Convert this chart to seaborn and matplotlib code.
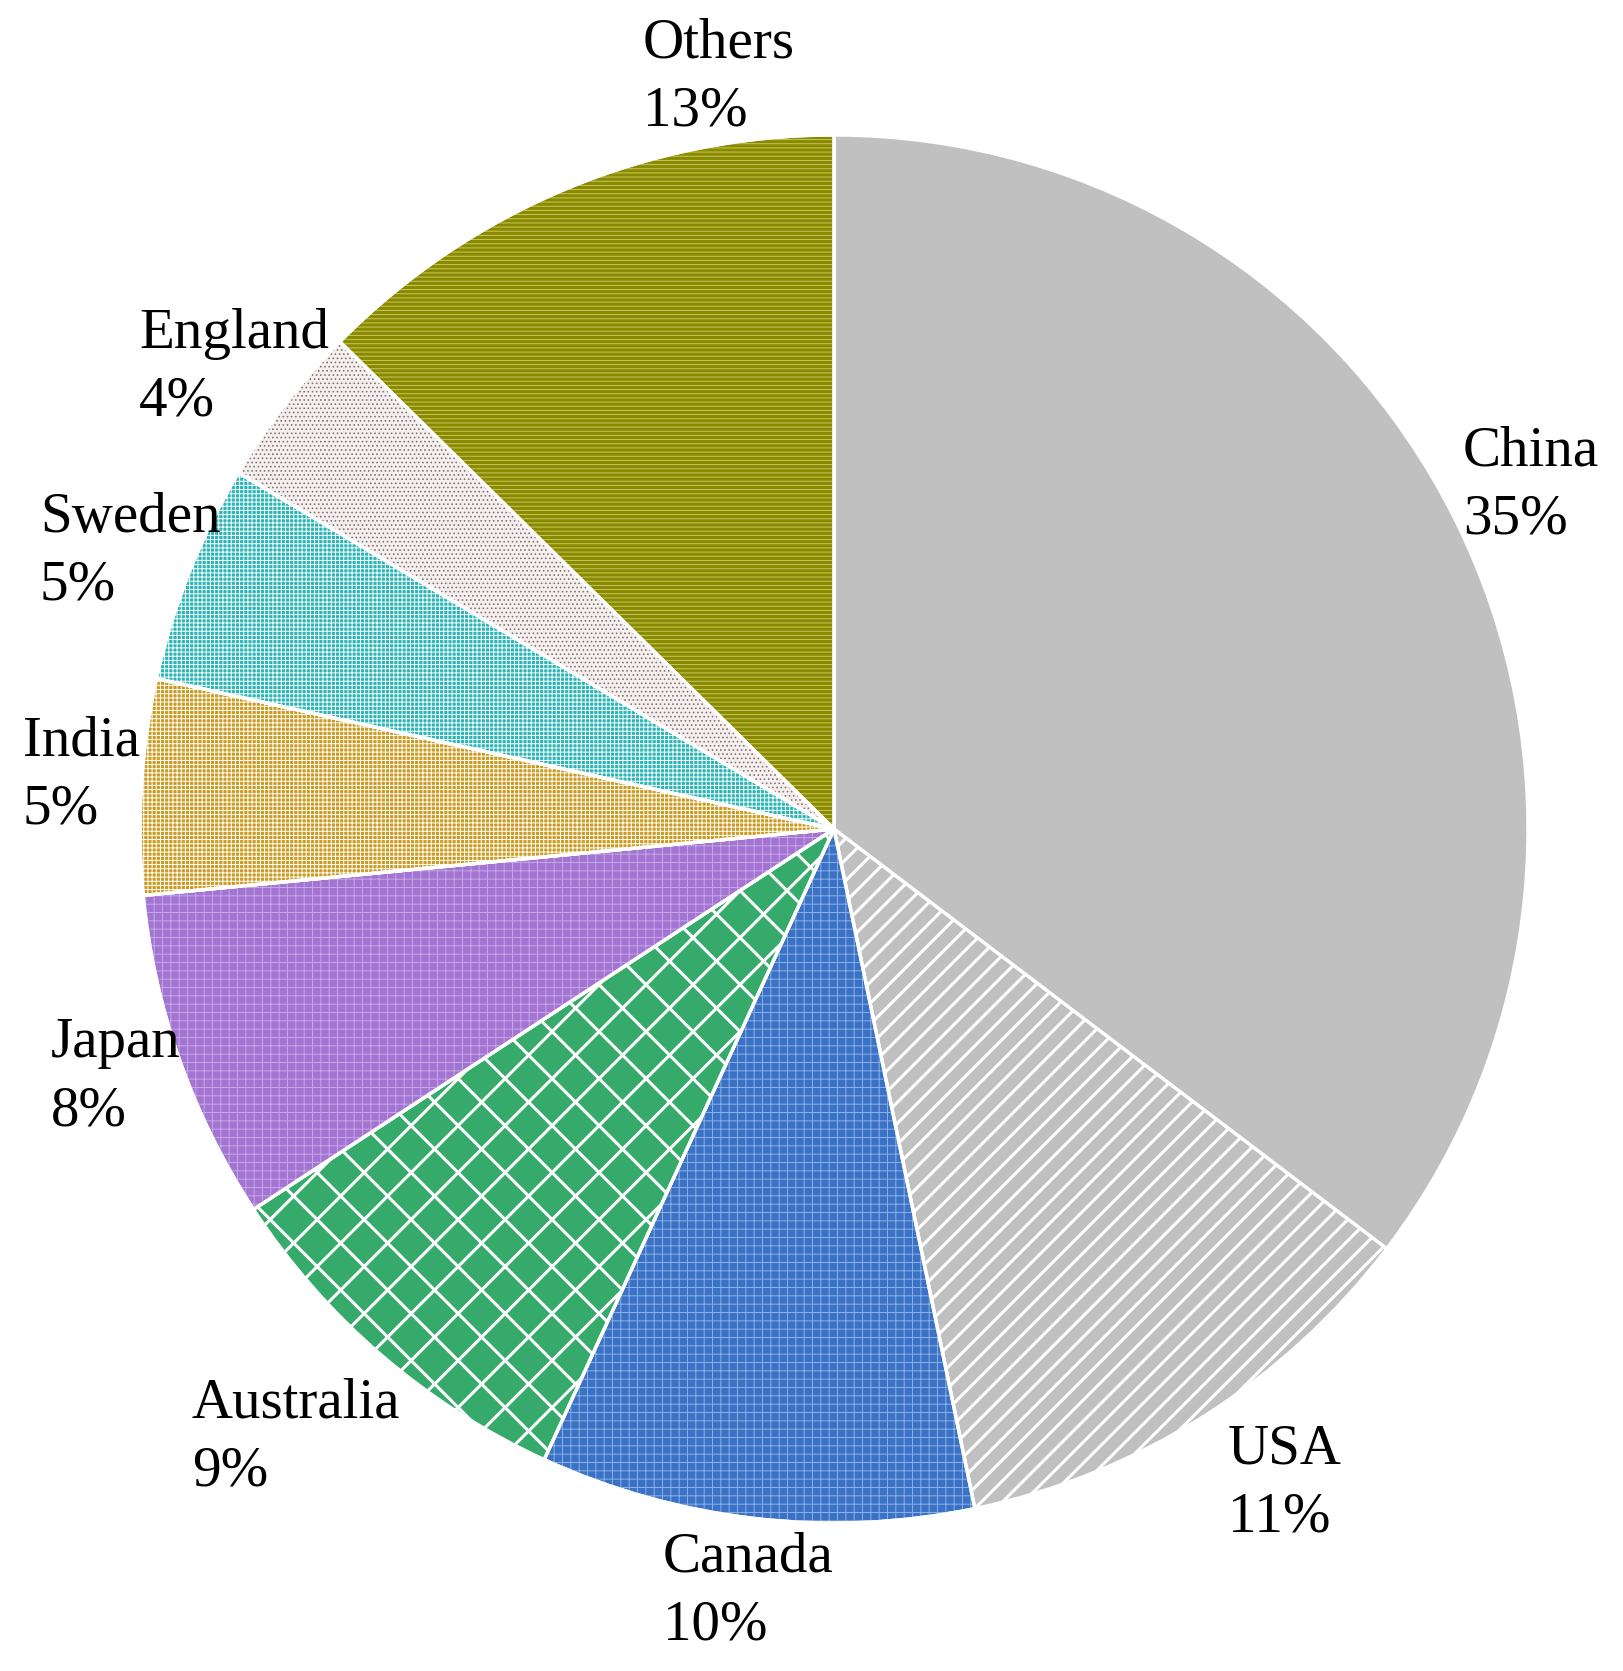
import matplotlib
matplotlib.use("Agg")
import matplotlib.pyplot as plt
import seaborn as sns
import numpy as np
from matplotlib.patches import Wedge

sns.set_style("white")
plt.rcParams['font.family'] = ['Liberation Serif', 'DejaVu Serif']
plt.rcParams['hatch.linewidth'] = 0.7

# data (shares in %)
countries = ['China', 'USA', 'Canada', 'Australia', 'Japan', 'India', 'Sweden', 'England', 'Others']
shares = [35.3, 11.4, 10.1, 8.9, 7.7, 5.0, 5.1, 3.8, 12.6]
colours = ['#c0c0c0', '#c0c0c0', '#3a72c8', '#36aa6a', '#a474d2', '#cc9c22', '#2ab6b6', '#f4f0f0', '#8a8a00']

# texture overlays (hatch, hatch colour) - None = plain / custom lines
textures = [None, None, ('++', '#8fb0e0'), None, ('++', '#c6a8e6'), ('++++', '#ffffff'),
            ('++++', '#ffffff'), ('....', '#8a7070'), ('----', '#c8c860')]

# label layout in full-size pixels: left, name baseline
label_px = [(1463, 465), (1228, 1463), (663, 1572), (192, 1418), (51, 1057),
            (23, 755), (40, 532), (139, 348), (643, 58)]

W, H = 1624, 1671
fig = plt.figure(figsize=(W / 100, H / 100), dpi=100)
cx, cy, r = 834, 829, 694
ax = fig.add_axes([(cx - r) / W, (H - cy - r) / H, 2 * r / W, 2 * r / H])

wedges, _ = ax.pie(shares, colors=colours, startangle=90, counterclock=False,
                   wedgeprops=dict(edgecolor='white', linewidth=2.4))
ax.set_xlim(-1, 1)
ax.set_ylim(-1, 1)
ax.axis('off')

# fine textures
for w, tex in zip(wedges, textures):
    if tex is None:
        continue
    ov = Wedge(w.center, w.r, w.theta1, w.theta2, facecolor='none',
               edgecolor=tex[1], linewidth=0, hatch=tex[0], zorder=w.get_zorder() + 0.1)
    ax.add_patch(ov)
    edge = Wedge(w.center, w.r, w.theta1, w.theta2, facecolor='none',
                 edgecolor='white', linewidth=2.4, zorder=w.get_zorder() + 0.3)
    ax.add_patch(edge)

# USA diagonal lines, Australia cross lines
def clipped_lines(wedge, step, slopes):
    xs = np.array([-1.2, 1.2])
    for s in slopes:
        for c in np.arange(-3, 3, step):
            ln, = ax.plot(xs, s * xs + c, color='white', lw=2.2, zorder=wedge.get_zorder() + 0.2)
            ln.set_clip_path(wedge)

clipped_lines(wedges[1], 0.0303, [1])
clipped_lines(wedges[3], 0.0677, [1, -1])

total = sum(shares)
for name, val, (lx, ly) in zip(countries, shares, label_px):
    pct = round(val / total * 100)
    fig.text(lx / W, 1 - ly / H, name, fontsize=41, va='baseline', ha='left', color='black')
    fig.text(lx / W, 1 - (ly + 68) / H, f'{pct}%', fontsize=41, va='baseline', ha='left', color='black')

fig.savefig('out.png', dpi=100)
